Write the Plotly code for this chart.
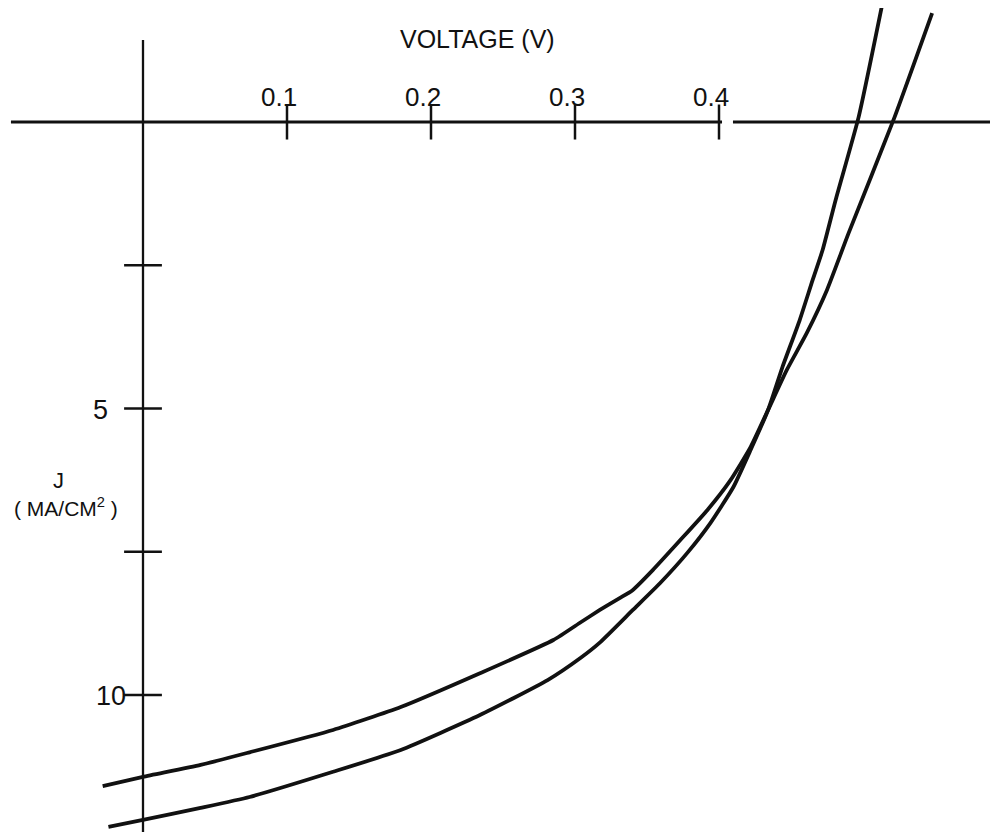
import plotly.graph_objects as go

# ---- data ----
VOLTAGE_TICKS = [0.1, 0.2, 0.3, 0.4]
VOLTAGE_TICK_LABELS = ["0.1", "0.2", "0.3", "0.4"]
J_TICKS = [2.5, 5, 7.5, 10]
J_TICK_LABELS = ["", "5", "", "10"]

curve_a_v = [-0.028, 0.0, 0.040, 0.074, 0.132, 0.179, 0.234, 0.285, 0.304, 0.317,
             0.331, 0.340, 0.354, 0.373, 0.392, 0.408, 0.422, 0.434, 0.447, 0.461,
             0.475, 0.490, 0.522, 0.548]
curve_a_j = [11.59, 11.43, 11.22, 11.00, 10.61, 10.21, 9.62, 9.04, 8.73, 8.52,
             8.31, 8.17, 7.82, 7.30, 6.77, 6.25, 5.67, 5.03, 4.33, 3.68,
             2.93, 1.94, -0.09, -1.90]

curve_b_v = [-0.024, 0.0, 0.040, 0.074, 0.132, 0.179, 0.234, 0.281, 0.304, 0.317,
             0.340, 0.359, 0.378, 0.394, 0.410, 0.422, 0.434, 0.444, 0.456, 0.465,
             0.472, 0.481, 0.497, 0.513]
curve_b_j = [12.30, 12.18, 11.97, 11.78, 11.34, 10.96, 10.35, 9.74, 9.35, 9.09,
             8.52, 8.05, 7.52, 7.00, 6.37, 5.72, 5.03, 4.28, 3.46, 2.76,
             2.23, 1.36, -0.09, -2.01]

# ---- styling ----
INK = "#111111"
FONT = "Liberation Sans, Arial, sans-serif"
# the page body has an 8px margin, so the figure is 990x824 and ranges are set accordingly
X_RANGE = [-0.09375, 0.59375]
Y_RANGE = [12.391, -1.990]

fig = go.Figure()

for v, j in [(curve_a_v, curve_a_j), (curve_b_v, curve_b_j)]:
    fig.add_trace(go.Scatter(x=v, y=j, mode="lines", cliponaxis=True,
                             line=dict(color=INK, width=3.8, shape="spline", smoothing=0.5),
                             hoverinfo="skip", showlegend=False))

# tick marks (crosses on the axes)
fig.add_trace(go.Scatter(x=VOLTAGE_TICKS, y=[0] * len(VOLTAGE_TICKS), mode="markers",
                         marker=dict(symbol="line-ns", size=25, color=INK,
                                     line=dict(color=INK, width=2.5)),
                         hoverinfo="skip", showlegend=False))
fig.add_trace(go.Scatter(x=[0] * len(J_TICKS), y=J_TICKS, mode="markers",
                         marker=dict(symbol="line-ew", size=27, color=INK,
                                     line=dict(color=INK, width=2.5)),
                         hoverinfo="skip", showlegend=False))

# axis lines
fig.add_shape(type="line", x0=-0.0917, x1=0.4021, y0=0, y1=0,
              line=dict(color=INK, width=3))
fig.add_shape(type="line", x0=0.4097, x1=0.5938, y0=0, y1=0,
              line=dict(color=INK, width=3))
fig.add_shape(type="line", x0=0, x1=0, y0=-1.43, y1=12.39,
              line=dict(color=INK, width=2.3))

# tick labels
for v, lab in zip(VOLTAGE_TICKS, VOLTAGE_TICK_LABELS):
    fig.add_annotation(x=v, y=0, text=lab, showarrow=False, xanchor="center",
                       yanchor="middle", xshift=-8, yshift=25,
                       font=dict(family=FONT, size=26, color=INK))
YLAB_DX = [0, -43, 0, -32]
for jv, lab, dx in zip(J_TICKS, J_TICK_LABELS, YLAB_DX):
    if lab:
        fig.add_annotation(x=0, y=jv, text=lab, showarrow=False, xanchor="center",
                           yanchor="middle", xshift=dx, yshift=-1,
                           font=dict(family=FONT, size=27, color=INK))

fig.add_annotation(x=0.5, y=1, xref="paper", yref="paper", text="VOLTAGE (V)",
                   showarrow=False, xanchor="center", yanchor="middle",
                   xshift=-26, yshift=-31, font=dict(family=FONT, size=25, color=INK))
fig.add_annotation(x=0, y=0.5, xref="paper", yref="paper", text="J",
                   showarrow=False, xanchor="center", yanchor="middle",
                   xshift=50, yshift=-60, font=dict(family=FONT, size=22, color=INK))
fig.add_annotation(x=0, y=0.5, xref="paper", yref="paper", text="( MA/CM<sup>2</sup> )",
                   showarrow=False, xanchor="center", yanchor="middle",
                   xshift=58, yshift=-87, font=dict(family=FONT, size=21, color=INK))

fig.update_layout(width=990, height=824, autosize=False,
                  margin=dict(l=0, r=0, t=0, b=0),
                  paper_bgcolor="white", plot_bgcolor="white",
                  xaxis=dict(range=X_RANGE, visible=False),
                  yaxis=dict(range=Y_RANGE, visible=False))

fig.write_html("out.html")
